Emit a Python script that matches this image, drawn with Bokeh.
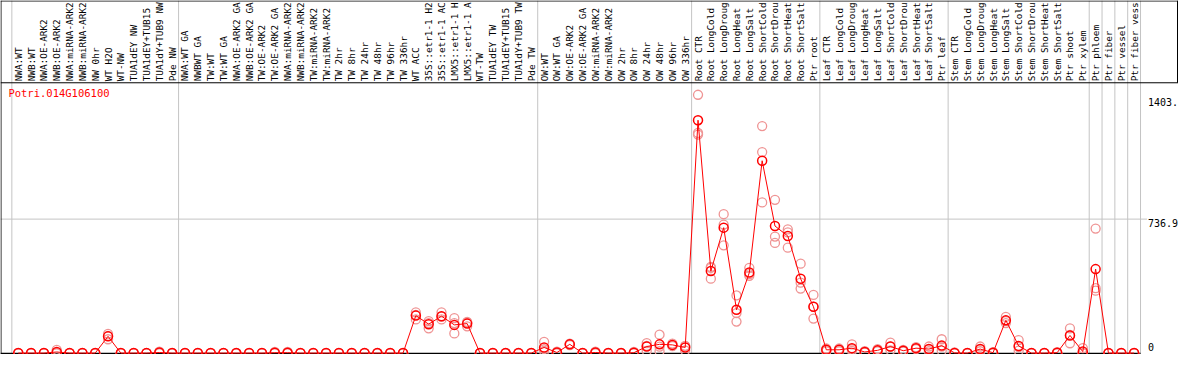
import numpy as np
from bokeh.plotting import figure
from bokeh.models import Range1d, ColumnDataSource
from bokeh.embed import file_html
from bokeh.resources import INLINE
from bokeh.core.properties import value

gene_name = "Potri.014G106100"

labels = [
    # group 1
    "NWA:WT", "NWB:WT", "NWA:OE-ARK2", "NWB:OE-ARK2", "NWA:miRNA-ARK2", "NWB:miRNA-ARK2",
    "NW 0hr", "WT H2O", "WT-NW", "TUA1dEY NW", "TUA1dEY+TUB15 NW", "TUA1dY+TUB9 NW", "Pde NW",
    # group 2
    "NWA:WT GA", "NWBWT GA", "TW:WT", "TW:WT GA", "NWA:OE-ARK2 GA", "NWB:OE-ARK2 GA",
    "TW:OE-ARK2", "TW:OE-ARK2 GA", "NWA:miRNA-ARK2 GA", "NWB:miRNA-ARK2 GA", "TW:miRNA-ARK2",
    "TW:miRNA-ARK2 GA", "TW 2hr", "TW 8hr", "TW 24hr", "TW 48hr", "TW 96hr", "TW 336hr",
    "WT ACC", "35S::etr1-1 H2O", "35S::etr1-1 ACC", "LMX5::etr1-1 H2O", "LMX5::etr1-1 ACC",
    "WT-TW", "TUA1dEY TW", "TUA1dEY+TUB15 TW", "TUA1dY+TUB9 TW", "Pde TW",
    # group 3
    "OW:WT", "OW:WT GA", "OW:OE-ARK2", "OW:OE-ARK2 GA", "OW:miRNA-ARK2", "OW:miRNA-ARK2 GA",
    "OW 2hr", "OW 8hr", "OW 24hr", "OW 48hr", "OW 96hr", "OW 336hr",
    # group 4
    "Root CTR", "Root LongCold", "Root LongDrought", "Root LongHeat", "Root LongSalt",
    "Root ShortCold", "Root ShortDrought", "Root ShortHeat", "Root ShortSalt", "Ptr root",
    # group 5
    "Leaf CTR", "Leaf LongCold", "Leaf LongDrought", "Leaf LongHeat", "Leaf LongSalt",
    "Leaf ShortCold", "Leaf ShortDrought", "Leaf ShortHeat", "Leaf ShortSalt", "Ptr leaf",
    # group 6
    "Stem CTR", "Stem LongCold", "Stem LongDrought", "Stem LongHeat", "Stem LongSalt",
    "Stem ShortCold", "Stem ShortDrought", "Stem ShortHeat", "Stem ShortSalt", "Ptr shoot", "Ptr xylem",
    # single groups
    "Ptr phloem", "Ptr fiber", "Ptr vessel", "Ptr fiber vessel",
]

group_sizes = [13, 28, 12, 10, 10, 11, 1, 1, 1, 1]

mean_vals = [
    0, 0, 0, 6, 0, 0, 0, 92, 0, 0, 0, 3, 0,
    0, 0, 0, 0, 0, 0, 0, 2, 2, 0, 0, 0, 0, 0, 0, 0, 0, 0,
    206, 159, 203, 155, 162, 0, 0, 0, 0, 0,
    31, 3, 48, 0, 3, 0, 0, 2, 36, 48, 45, 31,
    1281, 451, 690, 238, 443, 1058, 699, 644, 409, 255,
    18, 18, 27, 6, 15, 36, 13, 27, 22, 41,
    1, 0, 22, 2, 180, 39, 0, 0, 2, 97, 8,
    462, 0, 0, 0,
]
rep1 = [
    0, 0, 0, 18, 0, 0, 0, 106, 0, 0, 0, 8, 0,
    0, 0, 0, 0, 0, 0, 0, 6, 6, 0, 0, 0, 0, 0, 0, 0, 0, 0,
    224, 176, 224, 192, 171, 0, 0, 0, 0, 0,
    62, 8, 52, 0, 8, 0, 0, 6, 55, 101, 52, 40,
    1421, 474, 764, 317, 469, 1249, 843, 680, 492, 320,
    25, 25, 48, 10, 22, 57, 18, 32, 36, 76,
    3, 0, 36, 5, 199, 71, 0, 0, 5, 136, 27,
    685, 0, 0, 0,
]
rep2 = [
    0, 0, 0, 0, 0, 0, 0, 94, 0, 0, 0, 0, 0,
    0, 0, 0, 0, 0, 0, 0, 0, 0, 0, 0, 0, 0, 0, 0, 0, 0, 0,
    210, 165, 200, 165, 168, 0, 0, 0, 0, 0,
    22, 0, 48, 0, 0, 0, 0, 0, 40, 35, 45, 38,
    1211, 469, 707, 220, 434, 1106, 641, 664, 387, 255,
    18, 18, 20, 5, 14, 36, 12, 27, 20, 35,
    0, 0, 20, 0, 176, 33, 0, 0, 0, 100, 0,
    357, 0, 0, 0,
]
rep3 = [
    0, 0, 0, 0, 0, 0, 0, 76, 0, 0, 0, 0, 0,
    0, 0, 0, 0, 0, 0, 0, 0, 0, 0, 0, 0, 0, 0, 0, 0, 0, 0,
    185, 136, 185, 108, 147, 0, 0, 0, 0, 0,
    10, 0, 44, 0, 0, 0, 0, 0, 12, 10, 38, 14,
    1202, 409, 593, 173, 425, 829, 606, 580, 355, 190,
    10, 10, 12, 2, 9, 15, 8, 22, 10, 13,
    0, 0, 10, 0, 165, 13, 0, 0, 0, 54, 0,
    343, 0, 0, 0,
]

tick_values = [0, 736.9, 1403.0]
tick_labels = ["0", "736.9", "1403."]
grid_values = [736.9]

# the reference header shows at most 14 characters of each sample name
MAX_CHARS = 14
shown_labels = [s[:MAX_CHARS].rstrip() for s in labels]

# ---- layout (reference pixel space -> data space) ----
REF_W, REF_H = 1194, 370
K = 736.9 / 140.0
X0, X1 = -18 / 13, (REF_W - 18) / 13
Y0, Y1 = -1.5 * K, 368.5 * K


def xd(px):
    return X0 + px * (X1 - X0) / REF_W


def yd(py):
    return Y1 - py * (Y1 - Y0) / REF_H


n = len(labels)
idx = list(range(n))

p = figure(width=1178, height=354, x_range=Range1d(X0, X1), y_range=Range1d(Y0, Y1),
           output_backend="svg", toolbar_location=None,
           x_axis_location=None, y_axis_location=None,
           min_border=0, outline_line_color=None)
p.grid.visible = False
p.background_fill_color = "white"

grey = "#c4c4c4"
font = value("DejaVu Sans Mono")

# group separators
bounds = [-0.5] + list(np.cumsum(group_sizes) - 0.5)
p.segment(x0=bounds, y0=[Y0] * len(bounds), x1=bounds, y1=[Y1] * len(bounds),
          line_color=grey, line_width=1)

# horizontal grid
p.segment(x0=[X0] * len(grid_values), y0=grid_values, x1=[xd(1162)] * len(grid_values),
          y1=grid_values, line_color=grey, line_width=1)

# frame lines
p.segment(x0=[xd(0.5)], y0=[Y0], x1=[xd(0.5)], y1=[Y1], line_color="black", line_width=1)
p.segment(x0=[X0], y0=[yd(369)], x1=[bounds[-1]], y1=[yd(369)], line_color="black", line_width=1.5)
p.segment(x0=[X0], y0=[yd(86)], x1=[X1], y1=[yd(86)], line_color="black", line_width=1)
p.segment(x0=[X0], y0=[yd(0.5)], x1=[X1], y1=[yd(0.5)], line_color="black", line_width=1)
p.segment(x0=[xd(1193)], y0=[yd(86)], x1=[xd(1193)], y1=[Y1], line_color="black", line_width=1)

# sample labels (vertical)
p.text(x=idx, y=[yd(84.5)] * n, text=shown_labels, angle=np.pi / 2,
       text_align="left", text_baseline="middle", text_font=font,
       text_font_size="9.4px", text_color="black")

# title
p.text(x=[xd(8)], y=[yd(90)], text=[gene_name], text_align="left", text_baseline="top",
       text_font=font, text_font_size="10.5px", text_color="red")

# right-side value labels
p.text(x=[xd(1163)] * 2, y=tick_values[1:], text=tick_labels[1:], text_align="left",
       text_baseline="top", text_font=font, text_font_size="10px", text_color="black")
p.text(x=[xd(1163)], y=[tick_values[0] + 2 * K], text=[tick_labels[0]], text_align="left",
       text_baseline="bottom", text_font=font, text_font_size="10px", text_color="black")

# replicates
rep_src = ColumnDataSource(dict(x=idx * 3, y=list(rep1) + list(rep2) + list(rep3)))
p.scatter("x", "y", source=rep_src, marker="circle", size=9, fill_color=None,
          line_color="#ef9494", line_width=1.3)

# mean line + markers
src = ColumnDataSource(dict(x=idx, y=mean_vals))
p.line("x", "y", source=src, line_color="red", line_width=1)
p.scatter("x", "y", source=src, marker="circle", size=9, fill_color=None,
          line_color="red", line_width=1.5)

open("out.html", "w").write(file_html(p, INLINE))
